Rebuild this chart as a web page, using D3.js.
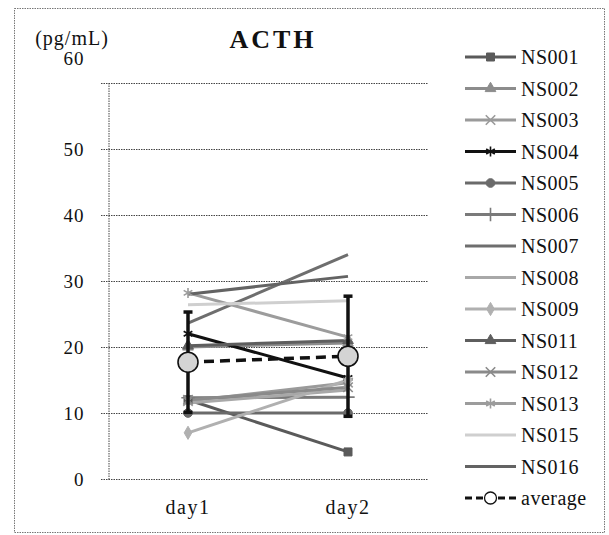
<!DOCTYPE html>
<html>
<head>
<meta charset="utf-8">
<script src="https://cdn.jsdelivr.net/npm/d3@7/dist/d3.min.js"></script>
<style>
  html, body { margin: 0; padding: 0; background: #fff; }
  svg { display: block; }
  text { font-family: "Liberation Serif", "Times New Roman", serif; fill: #111; }
</style>
</head>
<body>
<svg id="chart" width="609" height="535"></svg>
<script>
// ACTH per subject, day1 vs day2 (pg/mL)
const days = ["day1", "day2"];
const subjects = ["NS001", "NS002", "NS003", "NS004", "NS005", "NS006", "NS007",
                  "NS008", "NS009", "NS011", "NS012", "NS013", "NS015", "NS016"];
const ns001 = [12.0, 4.1];
const ns002 = [20.0, 20.6];
const ns003 = [11.8, 14.6];
const ns004 = [22.0, 15.3];
const ns005 = [10.0, 10.0];
const ns006 = [12.3, 12.4];
const ns007 = [23.6, 34.0];
const ns008 = [11.5, 13.5];
const ns009 = [7.0, 15.0];
const ns011 = [20.2, 21.0];
const ns012 = [12.0, 13.9];
const ns013 = [28.2, 21.5];
const ns015 = [26.4, 27.0];
const ns016 = [28.0, 30.7];
const averageValues = [17.7, 18.6];
const averageSD = [7.6, 9.1];
const yTicks = [0, 10, 20, 30, 40, 50, 60];

const seriesValues = [ns001, ns002, ns003, ns004, ns005, ns006, ns007,
                      ns008, ns009, ns011, ns012, ns013, ns015, ns016];

// line colour, marker symbol per subject
const styles = [
  { color: "#5a5a5a", sym: d3.symbolSquare,   fill: true,  size: 64 },
  { color: "#8c8c8c", sym: d3.symbolTriangle, fill: true,  size: 50 },
  { color: "#9a9a9a", sym: d3.symbolX,        fill: false, size: 60 },
  { color: "#111111", sym: d3.symbolAsterisk, fill: false, size: 70 },
  { color: "#6a6a6a", sym: d3.symbolCircle,   fill: true,  size: 60 },
  { color: "#7a7a7a", sym: d3.symbolPlus,     fill: false, size: 60 },
  { color: "#6e6e6e", sym: null },
  { color: "#a8a8a8", sym: null },
  { color: "#b0b0b0", sym: d3.symbolDiamond,  fill: true,  size: 50 },
  { color: "#5e5e5e", sym: d3.symbolTriangle, fill: true,  size: 50 },
  { color: "#8a8a8a", sym: d3.symbolX,        fill: false, size: 60 },
  { color: "#9c9c9c", sym: d3.symbolAsterisk, fill: false, size: 70 },
  { color: "#cfcfcf", sym: null },
  { color: "#636363", sym: null }
];

const svg = d3.select("#chart");

// outer frame
svg.append("rect")
  .attr("x", 14.5).attr("y", 8.5).attr("width", 590).attr("height", 524)
  .attr("fill", "none").attr("stroke", "#777").attr("stroke-width", 1)
  .attr("stroke-dasharray", "1.5,1");

const plot = { left: 108, right: 428, top: 83, bottom: 479 };

const x = d3.scalePoint().domain(days).range([plot.left, plot.right]).padding(0.5);
const y = d3.scaleLinear().domain([0, 60]).range([plot.bottom, plot.top]);

// horizontal gridlines
svg.append("g")
  .selectAll("line")
  .data(yTicks)
  .join("line")
  .attr("x1", plot.left - 7).attr("x2", plot.right)
  .attr("y1", d => y(d) + 0.5).attr("y2", d => y(d) + 0.5)
  .attr("stroke", "#444").attr("stroke-width", 1)
  .attr("stroke-dasharray", "1.5,1");

// value axis; the top label sits raised, directly under the unit label
const yAxis = svg.append("g")
  .attr("transform", `translate(${plot.left + 0.5},0)`)
  .call(d3.axisLeft(y).tickValues(yTicks).tickSize(0).tickPadding(24));
yAxis.select(".domain")
  .attr("stroke", "#444").attr("stroke-dasharray", "1.5,1");
yAxis.selectAll("text")
  .style("font-family", "'Liberation Serif', serif")
  .style("font-size", "19px").style("letter-spacing", "1px").attr("fill", "#111")
  .attr("text-anchor", "end")
  .attr("y", d => d === 60 ? -25 : 0);

// category axis labels
svg.append("g")
  .selectAll("text")
  .data(days)
  .join("text")
  .attr("x", d => x(d)).attr("y", 514)
  .attr("text-anchor", "middle")
  .style("font-size", "20px")
  .style("letter-spacing", "1.5px")
  .text(d => d);

// unit label and title
svg.append("text").attr("x", 72).attr("y", 45).attr("text-anchor", "middle")
  .style("font-size", "20px").style("letter-spacing", "1px").text("(pg/mL)");
svg.append("text").attr("x", 273).attr("y", 48).attr("text-anchor", "middle")
  .style("font-size", "26px").style("font-weight", "bold")
  .style("letter-spacing", "3px").text("ACTH");

const line = d3.line().x((d, i) => x(days[i])).y(d => y(d));

// subject lines
const subj = svg.append("g");
seriesValues.forEach((vals, k) => {
  const s = styles[k];
  subj.append("path")
    .attr("d", line(vals))
    .attr("fill", "none").attr("stroke", s.color).attr("stroke-width", 3);
});
// subject markers
seriesValues.forEach((vals, k) => {
  const s = styles[k];
  if (!s.sym) return;
  subj.selectAll(null)
    .data(vals)
    .join("path")
    .attr("transform", (d, i) => `translate(${x(days[i])},${y(d)})`)
    .attr("d", d3.symbol().type(s.sym).size(s.size))
    .attr("fill", s.fill ? s.color : "none")
    .attr("stroke", s.color)
    .attr("stroke-width", s.fill ? 1 : 1.6);
});

// average with error bars
const avg = svg.append("g");
avg.selectAll("line.err")
  .data(averageValues)
  .join("line").attr("class", "err")
  .attr("x1", (d, i) => x(days[i])).attr("x2", (d, i) => x(days[i]))
  .attr("y1", (d, i) => y(d - averageSD[i])).attr("y2", (d, i) => y(d + averageSD[i]))
  .attr("stroke", "#111").attr("stroke-width", 3.5);
averageValues.forEach((d, i) => {
  [d - averageSD[i], d + averageSD[i]].forEach(v => {
    avg.append("line")
      .attr("x1", x(days[i]) - 4.5).attr("x2", x(days[i]) + 4.5)
      .attr("y1", y(v)).attr("y2", y(v))
      .attr("stroke", "#111").attr("stroke-width", 3.5);
  });
});
avg.append("path")
  .attr("d", line(averageValues))
  .attr("fill", "none").attr("stroke", "#111").attr("stroke-width", 3.5)
  .attr("stroke-dasharray", "10,6");
avg.selectAll("circle")
  .data(averageValues)
  .join("circle")
  .attr("cx", (d, i) => x(days[i])).attr("cy", d => y(d)).attr("r", 10)
  .attr("fill", "#d4d4d4").attr("stroke", "#111").attr("stroke-width", 1.6);

// legend
const legendNames = subjects.concat(["average"]);
const lg = svg.append("g");
const ly = i => 57 + i * 31.5;
legendNames.forEach((name, i) => {
  const row = lg.append("g").attr("transform", `translate(0,${ly(i)})`);
  if (i < subjects.length) {
    const s = styles[i];
    row.append("line").attr("x1", 465).attr("x2", 516).attr("y1", 0).attr("y2", 0)
      .attr("stroke", s.color).attr("stroke-width", 3);
    if (s.sym) {
      row.append("path").attr("transform", "translate(490.5,0)")
        .attr("d", d3.symbol().type(s.sym).size(s.size))
        .attr("fill", s.fill ? s.color : "none")
        .attr("stroke", s.color).attr("stroke-width", s.fill ? 1 : 1.6);
    }
  } else {
    row.append("line").attr("x1", 465).attr("x2", 516).attr("y1", 0).attr("y2", 0)
      .attr("stroke", "#111").attr("stroke-width", 3).attr("stroke-dasharray", "7,4");
    row.append("circle").attr("cx", 490.5).attr("cy", 0).attr("r", 6)
      .attr("fill", "#fff").attr("stroke", "#111").attr("stroke-width", 1.3);
  }
  row.append("text").attr("x", 521).attr("y", 7)
    .style("font-size", "20px").style("letter-spacing", "0.5px").text(name);
});
</script>
</body>
</html>
